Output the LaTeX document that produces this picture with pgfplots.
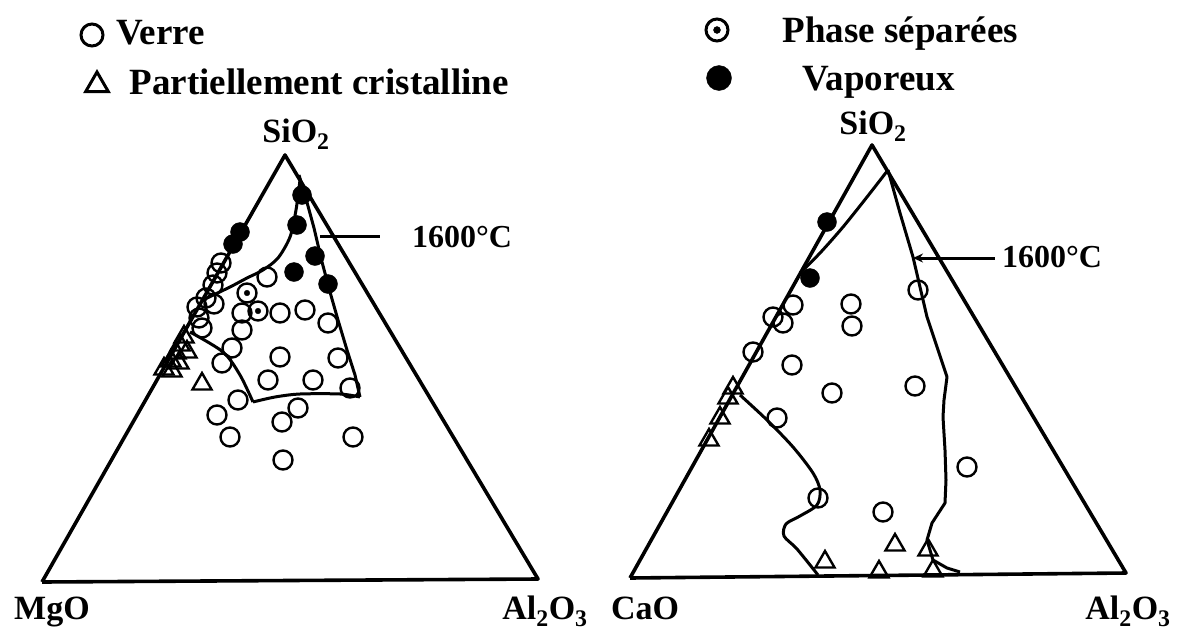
\documentclass[border=0pt]{standalone}
\usepackage{fontspec}
\setmainfont{Liberation Serif}
\usepackage{pgfplots}
\pgfplotsset{compat=1.18}
\usetikzlibrary{arrows.meta}
\pgfplotsset{
 edge/.style={black,line width=3.6pt,line join=round,no markers},
 bound/.style={black,line width=3pt,line join=round,no markers},
 glass/.style={only marks,mark=o,mark size=9.5pt,mark options={line width=2.4pt,black}},
 vapor/.style={only marks,mark=*,mark size=9.5pt,mark options={black,fill=black}},
 cryst/.style={only marks,mark=triangle,mark size=11pt,mark options={line width=2.4pt,black}},
 sepdot/.style={only marks,mark=*,mark size=2.8pt,mark options={black,fill=black}},
}
\begin{document}
\begin{tikzpicture}
\path[use as bounding box] (0,0) rectangle (1178pt,632pt);
\begin{axis}[at={(0,0)},anchor=south west,width=1178pt,height=632pt,scale only axis,
 xmin=0,xmax=1178,ymin=0,ymax=632,y dir=reverse,axis lines=none,clip=false]
% ---------- legend ----------
\addplot[glass,mark size=11pt,mark options={line width=3pt}] coordinates {(92,35)};
\addplot[cryst,mark size=13pt,mark options={line width=3pt}] coordinates {(97,85)};
\addplot[glass,mark size=11pt,mark options={line width=3pt}] coordinates {(717,30)};
\addplot[sepdot,mark size=3.5pt] coordinates {(717,30)};
\addplot[vapor,mark size=12.5pt] coordinates {(719,78)};
\node[font=\fontsize{37}{40}\selectfont\bfseries,anchor=base west] at (axis cs:113,44) {Verre};
\node[font=\fontsize{37}{40}\selectfont\bfseries,anchor=base west] at (axis cs:126,94) {Partiellement cristalline};
\node[font=\fontsize{37}{40}\selectfont\bfseries,anchor=base west] at (axis cs:779,42) {Phase séparées};
\node[font=\fontsize{37}{40}\selectfont\bfseries,anchor=base west] at (axis cs:799,90) {Vaporeux};
% ---------- left triangle ----------
\addplot[edge] coordinates {(42,582) (538,579) (285,155) (42,582)};
\addplot[bound,smooth] coordinates {(300,180) (296,210) (290,237) (278,258) (263,270) (247,278) (230,287) (205,299)};
\addplot[bound] coordinates {(299,175) (305,195) (314,228) (322,262) (330,292) (338,320) (347,350) (355,375) (360,397)};
\addplot[bound,smooth] coordinates {(360,397) (340,394) (300,394) (275,397) (253,402)};
\addplot[bound,smooth] coordinates {(190,332) (223,352) (240,375) (253,402)};
\addplot[bound] coordinates {(320,236) (380,236)};
\addplot[vapor] coordinates {(302,195) (297,225) (240,232) (233,244) (315,256) (294,272) (328,284)};
\addplot[glass] coordinates {(221,263) (217,273) (213,285) (206,298) (214,304) (197,307) (199,318) (267,277)
 (242,313) (280,313) (305,310) (328,323) (202,328) (242,330) (232,348) (280,357) (338,358) (222,363)
 (268,380) (313,380) (350,388) (238,400) (298,408) (282,422) (217,415) (230,437) (353,437) (283,460)};
\addplot[glass] coordinates {(247,293) (258,311)};
\addplot[sepdot] coordinates {(247,293) (258,311)};
\addplot[cryst] coordinates {(184,337) (180,345) (176,353) (187,352) (171,361) (179,363) (164,369) (172,371) (202,384)};
\node[font=\fontsize{34}{36}\selectfont\bfseries] at (axis cs:296,134) {SiO\textsubscript{2}};
\node[font=\fontsize{32}{34}\selectfont\bfseries] at (axis cs:462,237) {1600°C};
\node[font=\fontsize{34}{36}\selectfont\bfseries,anchor=base] at (axis cs:52,619) {MgO};
\node[font=\fontsize{34}{36}\selectfont\bfseries,anchor=base] at (axis cs:545,619) {Al\textsubscript{2}O\textsubscript{3}};
% ---------- right triangle ----------
\addplot[edge] coordinates {(630,578) (1126,573) (872,145) (630,578)};
\addplot[bound,smooth] coordinates {(888,170) (867,197) (843,227) (820,253) (800,273)};
\addplot[bound] coordinates {(888,170) (900,213) (913,257) (927,317) (937,347) (947,377) (944,400) (943,417)
 (945,450) (946,480) (945,503) (932,523) (927,540) (933,560) (947,568) (960,572)};
\addplot[bound,smooth] coordinates {(740,395) (767,420) (793,447) (813,473) (820,490) (817,505) (800,516)
 (786,524) (784,536) (797,549) (818,575)};
\addplot[bound,{Stealth[length=10pt,width=9pt]}-] coordinates {(913,258) (995,258)};
\addplot[vapor] coordinates {(827,222) (810,278)};
\addplot[glass] coordinates {(918,290) (851,304) (852,326) (793,305) (773,317) (783,323) (753,352) (792,365)
 (832,393) (915,386) (777,418) (967,467) (818,498) (883,512)};
\addplot[cryst] coordinates {(733,388) (728,398) (720,418) (709,440) (825,562) (895,545) (879,572) (928,550) (933,571)};
\node[font=\fontsize{34}{36}\selectfont\bfseries] at (axis cs:873,126) {SiO\textsubscript{2}};
\node[font=\fontsize{32}{34}\selectfont\bfseries] at (axis cs:1052,257) {1600°C};
\node[font=\fontsize{34}{36}\selectfont\bfseries,anchor=base] at (axis cs:645,619) {CaO};
\node[font=\fontsize{34}{36}\selectfont\bfseries,anchor=base] at (axis cs:1128,619) {Al\textsubscript{2}O\textsubscript{3}};
\end{axis}
\end{tikzpicture}
\end{document}
